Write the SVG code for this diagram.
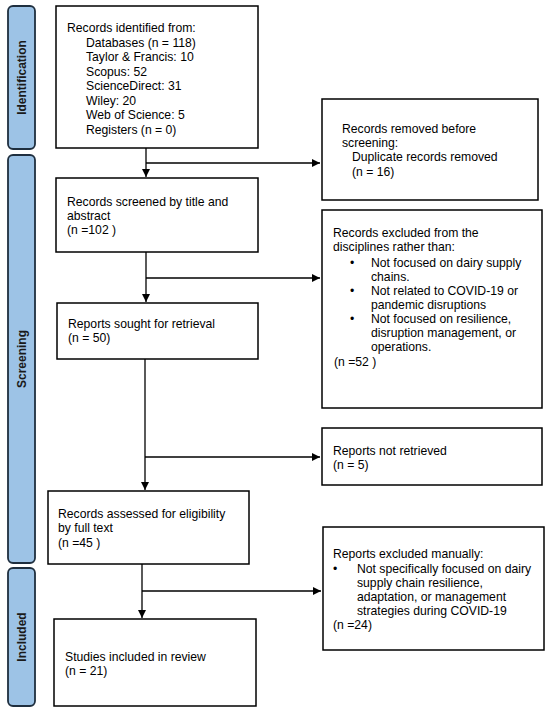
<svg xmlns="http://www.w3.org/2000/svg" width="550" height="712" viewBox="0 0 550 712">
<style>
.box{fill:#fff;stroke:#000;stroke-width:1.5}
.phase{fill:#9dc3e6;stroke:#1f2f3f;stroke-width:1.8}
.t{font-family:"Liberation Sans",Arial,sans-serif;font-size:12.2px;fill:#000}
.pl{font-family:"Liberation Sans",Arial,sans-serif;font-size:12px;font-weight:bold;fill:#1a1a1a;text-anchor:middle}
.c{fill:none;stroke:#000;stroke-width:1.3}
</style>
<defs>
<marker id="ah" viewBox="0 0 10 10" refX="10" refY="5" markerWidth="8" markerHeight="8" markerUnits="userSpaceOnUse" orient="auto">
<path d="M0,0 L10,5 L0,10 z" fill="#000"/>
</marker>
</defs>
<rect width="550" height="712" fill="#fff"/>
<g id="phase-identification">
<rect class="phase" x="8" y="6" width="27" height="143" rx="5"/>
<text class="pl" transform="translate(25.5,77.5) rotate(-90)">Identification</text>
</g>
<g id="phase-screening">
<rect class="phase" x="8" y="155" width="27" height="408" rx="5"/>
<text class="pl" transform="translate(25.5,359) rotate(-90)">Screening</text>
</g>
<g id="phase-included">
<rect class="phase" x="8" y="568" width="27" height="138" rx="5"/>
<text class="pl" transform="translate(25.5,637) rotate(-90)">Included</text>
</g>
<g id="connectors">
<path class="c" d="M146,148 V177" marker-end="url(#ah)"/>
<path class="c" d="M146,163 H320" marker-end="url(#ah)"/>
<path class="c" d="M146,252 V302" marker-end="url(#ah)"/>
<path class="c" d="M146,278 H320" marker-end="url(#ah)"/>
<path class="c" d="M145,359 V490" marker-end="url(#ah)"/>
<path class="c" d="M145,457 H320" marker-end="url(#ah)"/>
<path class="c" d="M142,564 V618" marker-end="url(#ah)"/>
<path class="c" d="M142,591 H321" marker-end="url(#ah)"/>
</g>
<g id="records-identified">
<rect class="box" x="56" y="6" width="202" height="142"/>
<text class="t" x="67" y="32">Records identified from:</text>
<text class="t" x="86" y="46.5">Databases (n = 118)</text>
<text class="t" x="86" y="61">Taylor &amp; Francis: 10</text>
<text class="t" x="86" y="75.5">Scopus: 52</text>
<text class="t" x="86" y="90">ScienceDirect: 31</text>
<text class="t" x="86" y="104.5">Wiley: 20</text>
<text class="t" x="86" y="119">Web of Science: 5</text>
<text class="t" x="86" y="133.5">Registers (n = 0)</text>
</g>
<g id="records-removed">
<rect class="box" x="322" y="99" width="216" height="101"/>
<text class="t" x="342" y="133">Records removed before</text>
<text class="t" x="342" y="147">screening:</text>
<text class="t" x="352" y="161">Duplicate records removed</text>
<text class="t" x="352" y="176">(n = 16)</text>
</g>
<g id="records-screened">
<rect class="box" x="56" y="178" width="202" height="74"/>
<text class="t" x="67" y="206">Records screened by title and</text>
<text class="t" x="67" y="220">abstract</text>
<text class="t" x="67" y="234">(n =102 )</text>
</g>
<g id="records-excluded">
<rect class="box" x="322" y="210" width="220" height="198"/>
<text class="t" x="333" y="237">Records excluded from the</text>
<text class="t" x="333" y="251">disciplines rather than:</text>
<text class="t" x="350" y="267">•</text>
<text class="t" x="371" y="267">Not focused on dairy supply</text>
<text class="t" x="371" y="281">chains.</text>
<text class="t" x="350" y="295">•</text>
<text class="t" x="371" y="295">Not related to COVID-19 or</text>
<text class="t" x="371" y="309">pandemic disruptions</text>
<text class="t" x="350" y="323">•</text>
<text class="t" x="371" y="323">Not focused on resilience,</text>
<text class="t" x="371" y="337">disruption management, or</text>
<text class="t" x="371" y="351">operations.</text>
<text class="t" x="334" y="366">(n =52 )</text>
</g>
<g id="reports-sought">
<rect class="box" x="57" y="303" width="201" height="56"/>
<text class="t" x="68" y="328">Reports sought for retrieval</text>
<text class="t" x="68" y="342">(n = 50)</text>
</g>
<g id="reports-not-retrieved">
<rect class="box" x="322" y="428" width="220" height="57"/>
<text class="t" x="333" y="455">Reports not retrieved</text>
<text class="t" x="333" y="469">(n = 5)</text>
</g>
<g id="records-assessed">
<rect class="box" x="48" y="491" width="201" height="73"/>
<text class="t" x="58" y="518">Records assessed for eligibility</text>
<text class="t" x="58" y="532">by full text</text>
<text class="t" x="58" y="547">(n =45 )</text>
</g>
<g id="reports-excluded">
<rect class="box" x="323" y="527" width="221" height="123"/>
<text class="t" x="333" y="558">Reports excluded manually:</text>
<text class="t" x="333" y="573">•</text>
<text class="t" x="357" y="573">Not specifically focused on dairy</text>
<text class="t" x="357" y="587">supply chain resilience,</text>
<text class="t" x="357" y="601">adaptation, or management</text>
<text class="t" x="357" y="615">strategies during COVID-19</text>
<text class="t" x="333" y="629">(n =24)</text>
</g>
<g id="studies-included">
<rect class="box" x="54" y="619" width="202" height="87"/>
<text class="t" x="65" y="661">Studies included in review</text>
<text class="t" x="65" y="675">(n = 21)</text>
</g>
</svg>
